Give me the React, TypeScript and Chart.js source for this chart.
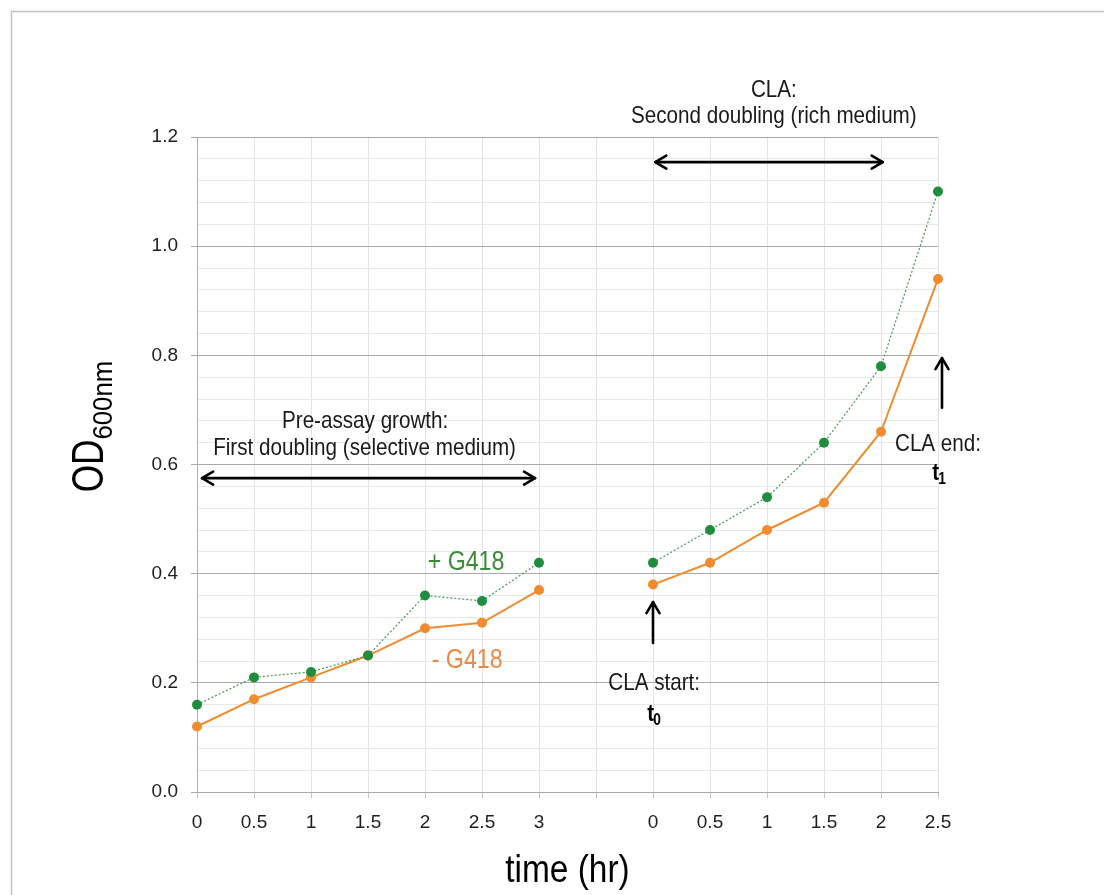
import React, { useEffect, useRef } from 'react';
import { Chart, registerables } from 'chart.js';

Chart.register(...registerables);

// ---- Data ----
const categories = ['0', '0.5', '1', '1.5', '2', '2.5', '3', '', '0', '0.5', '1', '1.5', '2', '2.5'];
const withG418 = [0.16, 0.21, 0.22, 0.25, 0.36, 0.35, 0.42, null, 0.42, 0.48, 0.54, 0.64, 0.78, 1.1];
const withoutG418 = [0.12, 0.17, 0.21, 0.25, 0.3, 0.31, 0.37, null, 0.38, 0.42, 0.48, 0.53, 0.66, 0.94];
const yMin = 0;
const yMax = 1.2;
const yMinorStep = 0.04;
const yMajorStep = 0.2;

const FONT = "'Liberation Sans', Arial, Helvetica, sans-serif";
const GREEN = '#1e8e3e';
const ORANGE = '#f08c2e';

const isMajor = (v: number) => Math.abs(v / yMajorStep - Math.round(v / yMajorStep)) < 1e-6;

function drawText(
  ctx: CanvasRenderingContext2D,
  text: string,
  x: number,
  y: number,
  size: number,
  color: string,
  align: CanvasTextAlign = 'center',
  weight = 'normal',
  sx = 0.86
) {
  ctx.save();
  ctx.translate(x, y);
  ctx.scale(sx, 1);
  ctx.font = `${weight} ${size}px ${FONT}`;
  ctx.fillStyle = color;
  ctx.textAlign = align;
  ctx.textBaseline = 'alphabetic';
  ctx.fillText(text, 0, 0);
  ctx.restore();
}

function chevron(ctx: CanvasRenderingContext2D, px: number, py: number, dx: number, dy: number) {
  const L = 11;
  const W = 6.5;
  const nx = -dy;
  const ny = dx;
  ctx.beginPath();
  ctx.moveTo(px - dx * L + nx * W, py - dy * L + ny * W);
  ctx.lineTo(px, py);
  ctx.lineTo(px - dx * L - nx * W, py - dy * L - ny * W);
  ctx.stroke();
}

function arrow(ctx: CanvasRenderingContext2D, x1: number, y1: number, x2: number, y2: number, both: boolean) {
  const len = Math.hypot(x2 - x1, y2 - y1);
  const dx = (x2 - x1) / len;
  const dy = (y2 - y1) / len;
  ctx.save();
  ctx.strokeStyle = '#000';
  ctx.lineWidth = 2.6;
  ctx.lineCap = 'round';
  ctx.lineJoin = 'round';
  ctx.beginPath();
  ctx.moveTo(x1, y1);
  ctx.lineTo(x2, y2);
  ctx.stroke();
  chevron(ctx, x2, y2, dx, dy);
  if (both) chevron(ctx, x1, y1, -dx, -dy);
  ctx.restore();
}

function subscriptLabel(ctx: CanvasRenderingContext2D, x: number, y: number, main: string, sub: string) {
  ctx.save();
  ctx.translate(x, y);
  ctx.scale(0.86, 1);
  ctx.fillStyle = '#000';
  ctx.textAlign = 'left';
  ctx.textBaseline = 'alphabetic';
  ctx.font = `bold 24px ${FONT}`;
  ctx.fillText(main, 0, 0);
  const w = ctx.measureText(main).width;
  ctx.font = `bold 16px ${FONT}`;
  ctx.fillText(sub, w - 1, 4);
  ctx.restore();
}

const annotationPlugin = {
  id: 'annotations',
  afterDraw(chart: any) {
    const ctx: CanvasRenderingContext2D = chart.ctx;
    const xs = chart.scales.x;
    const ys = chart.scales.y;
    const area = chart.chartArea;
    const px = (i: number) => xs.getPixelForValue(i);
    const py = (v: number) => ys.getPixelForValue(v);

    // outer frame
    ctx.save();
    ctx.strokeStyle = '#c2c2c2';
    ctx.lineWidth = 1.5;
    ctx.beginPath();
    ctx.moveTo(11.5, chart.height);
    ctx.lineTo(11.5, 11.5);
    ctx.lineTo(chart.width, 11.5);
    ctx.stroke();
    ctx.restore();

    // Pre-assay growth
    drawText(ctx, 'Pre-assay growth:', px(2.95), py(0.667), 24, '#1a1a1a');
    drawText(ctx, 'First doubling (selective medium)', px(2.94), py(0.617), 24, '#1a1a1a');
    arrow(ctx, px(0.09), py(0.575), px(5.93), py(0.575), true);

    // Series labels
    drawText(ctx, '+ G418', px(4.72), py(0.407), 27, '#3a8a3a');
    drawText(ctx, '- G418', px(4.74), py(0.227), 27, '#ec8a45');

    // CLA
    drawText(ctx, 'CLA:', px(10.12), py(1.273), 24, '#1a1a1a');
    drawText(ctx, 'Second doubling (rich medium)', px(10.12), py(1.226), 24, '#1a1a1a');
    arrow(ctx, px(8.04), py(1.154), px(12.03), py(1.154), true);

    // CLA start
    arrow(ctx, px(8.0), py(0.273), px(8.0), py(0.348), false);
    drawText(ctx, 'CLA start:', px(8.02), py(0.187), 24, '#1a1a1a');
    subscriptLabel(ctx, px(7.9), py(0.13), 't', '0');

    // CLA end
    arrow(ctx, px(13.07), py(0.704), px(13.07), py(0.795), false);
    drawText(ctx, 'CLA end:', px(13.0), py(0.625), 24, '#1a1a1a');
    subscriptLabel(ctx, px(12.9), py(0.572), 't', '1');

    // x-axis title
    drawText(ctx, 'time (hr)', (area.left + area.right) / 2, area.bottom + 90, 38, '#000', 'center', 'normal', 0.88);

    // y-axis title OD600nm (rotated)
    ctx.save();
    ctx.translate(area.left - 94, py(0.549));
    ctx.rotate(-Math.PI / 2);
    ctx.fillStyle = '#000';
    ctx.textAlign = 'left';
    ctx.textBaseline = 'alphabetic';
    ctx.save();
    ctx.scale(0.8, 1);
    ctx.font = `normal 44px ${FONT}`;
    ctx.fillText('OD', 0, 0);
    const odW = ctx.measureText('OD').width * 0.8;
    ctx.restore();
    ctx.save();
    ctx.translate(odW, 9);
    ctx.scale(0.92, 1);
    ctx.font = `normal 28px ${FONT}`;
    ctx.fillText('600nm', 0, 0);
    ctx.restore();
    ctx.restore();
  },
};

export default function App() {
  const canvasRef = useRef<HTMLCanvasElement | null>(null);

  useEffect(() => {
    if (!canvasRef.current) return;
    const chart = new Chart(canvasRef.current, {
      type: 'line',
      data: {
        labels: categories,
        datasets: [
          {
            label: '+ G418',
            data: withG418,
            borderColor: '#3f9a52',
            borderWidth: 1.2,
            borderDash: [2, 2],
            pointRadius: 5,
            pointBackgroundColor: GREEN,
            pointBorderColor: GREEN,
            pointBorderWidth: 0,
            tension: 0,
            spanGaps: false,
          },
          {
            label: '- G418',
            data: withoutG418,
            borderColor: ORANGE,
            borderWidth: 2,
            pointRadius: 5,
            pointBackgroundColor: ORANGE,
            pointBorderColor: ORANGE,
            pointBorderWidth: 0,
            tension: 0,
            spanGaps: false,
          },
        ],
      },
      options: {
        responsive: false,
        animation: false,
        layout: { padding: { left: 0, right: 166, top: 137, bottom: 0 } },
        plugins: {
          legend: { display: false },
          tooltip: { enabled: false },
          title: { display: false },
        },
        scales: {
          x: {
            type: 'category',
            offset: false,
            grid: {
              color: '#e3e3e3',
              lineWidth: 1,
              tickLength: 6,
              tickColor: '#c4c4c4',
            },
            border: { display: true, color: '#a9a9a9', width: 1 },
            ticks: {
              autoSkip: false,
              maxRotation: 0,
              minRotation: 0,
              padding: 13,
              color: '#1f1f1f',
              font: { family: FONT, size: 19 },
            },
            afterFit: (s: any) => {
              s.height = 103;
            },
          },
          y: {
            type: 'linear',
            min: yMin,
            max: yMax,
            grid: {
              color: (c: any) => (c.tick && isMajor(c.tick.value) ? '#a9a9a9' : '#e8e8e8'),
              tickColor: (c: any) => (c.tick && isMajor(c.tick.value) ? '#a9a9a9' : 'rgba(0,0,0,0)'),
              tickLength: 6,
              lineWidth: 1,
            },
            border: { display: true, color: '#b0b0b0', width: 1 },
            ticks: {
              stepSize: yMinorStep,
              autoSkip: false,
              padding: 13,
              color: '#1f1f1f',
              font: { family: FONT, size: 19 },
              callback: (v: any) => (isMajor(Number(v)) ? Number(v).toFixed(1) : ''),
            },
            afterFit: (s: any) => {
              s.width = 197;
            },
          },
        },
      },
      plugins: [annotationPlugin],
    });
    return () => chart.destroy();
  }, []);

  return (
    <div style={{ position: 'absolute', left: 0, top: 0, width: 1104, height: 895, background: '#fff' }}>
      <canvas ref={canvasRef} width={1104} height={895} style={{ display: 'block' }} />
    </div>
  );
}
